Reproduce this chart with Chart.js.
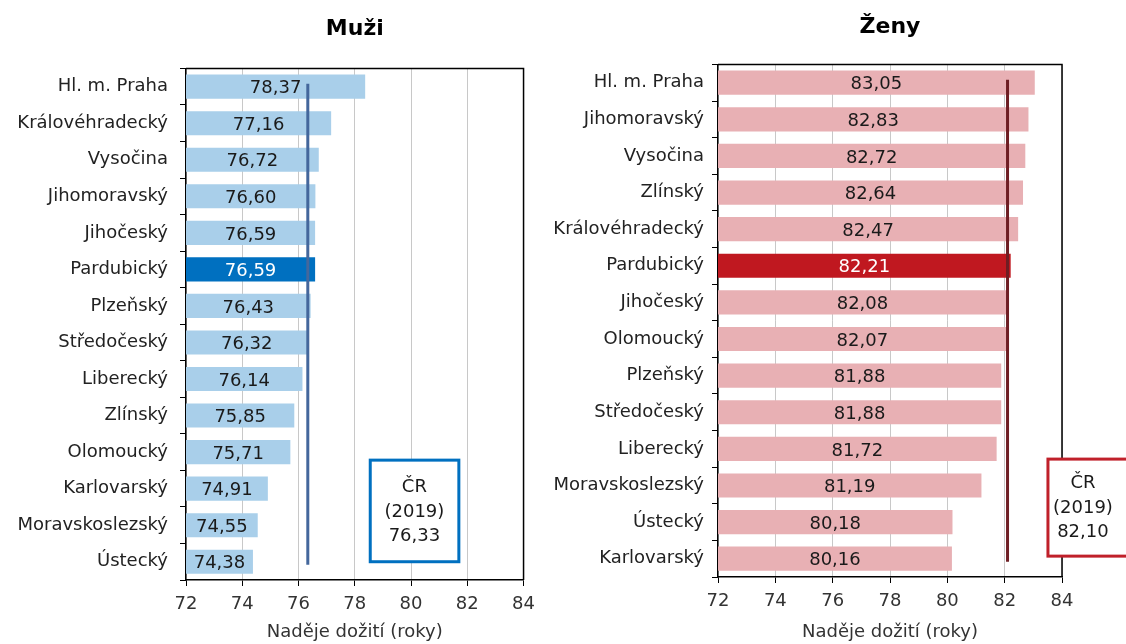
<!DOCTYPE html>
<html>
<head>
<meta charset="utf-8">
<script src="https://cdn.jsdelivr.net/npm/chart.js@4/dist/chart.umd.min.js"></script>
<style>
  html, body { margin: 0; padding: 0; background: #fff; }
  #wrap { position: relative; width: 1126px; height: 644px; overflow: hidden; }
  #men { position: absolute; left: 0; top: 0; }
  #women { position: absolute; left: 540px; top: 0; }
</style>
</head>
<body>
<div id="wrap">
  <canvas id="men" width="543" height="644"></canvas>
  <canvas id="women" width="586" height="644"></canvas>
</div>
<script>
// ==============================
// DATA
// ==============================
const regionsMen = ["Hl. m. Praha", "Královéhradecký", "Vysočina", "Jihomoravský", "Jihočeský", "Pardubický",
    "Plzeňský", "Středočeský", "Liberecký", "Zlínský", "Olomoucký", "Karlovarský", "Moravskoslezský", "Ústecký"];
const valuesMen = [78.37, 77.16, 76.72, 76.60, 76.59, 76.59, 76.43, 76.32, 76.14, 75.85, 75.71, 74.91, 74.55, 74.38];

const regionsWomen = ["Hl. m. Praha", "Jihomoravský", "Vysočina", "Zlínský", "Královéhradecký", "Pardubický",
    "Jihočeský", "Olomoucký", "Plzeňský", "Středočeský", "Liberecký", "Moravskoslezský", "Ústecký", "Karlovarský"];
const valuesWomen = [83.05, 82.83, 82.72, 82.64, 82.47, 82.21, 82.08, 82.07, 81.88, 81.88, 81.72, 81.19, 80.18, 80.16];

const crMen = 76.33;
const crWomen = 82.10;
const crYear = "2019";
const highlightRegion = "Pardubický";
const xTicks = [72, 74, 76, 78, 80, 82, 84];
const axisTitle = "Naděje dožití (roky)";

const FONT = "'DejaVu Sans', Verdana, sans-serif";
const fmt = v => v.toFixed(2).replace(".", ",");

// ==============================
// PLUGIN: frame, labels, CR line and box
// ==============================
const overlayPlugin = {
    id: "overlay",
    afterDatasetsDraw(chart, args, opts) {
        const { ctx, chartArea: a, scales: { x, y } } = chart;
        const ds = chart.data.datasets[0];
        const meta = chart.getDatasetMeta(0);

        // top + right frame
        ctx.save();
        ctx.strokeStyle = "#000";
        ctx.lineWidth = 1.5;
        ctx.beginPath();
        ctx.moveTo(a.left, a.top);
        ctx.lineTo(a.right, a.top);
        ctx.lineTo(a.right, a.bottom);
        ctx.stroke();

        // value labels, centered in bars
        ctx.font = "18px " + FONT;
        ctx.textAlign = "center";
        ctx.textBaseline = "middle";
        meta.data.forEach((bar, i) => {
            const label = chart.data.labels[i];
            ctx.fillStyle = label === highlightRegion ? "#fff" : "#1a1a1a";
            const cx = (x.getPixelForValue(x.min) + bar.x) / 2;
            ctx.fillText(fmt(ds.data[i]), cx, bar.y + 2);
        });

        // CR reference line
        const lx = x.getPixelForValue(opts.cr);
        ctx.strokeStyle = opts.lineColor;
        ctx.lineWidth = 3;
        ctx.beginPath();
        ctx.moveTo(lx, y.getPixelForValue(0) - 3);
        ctx.lineTo(lx, y.getPixelForValue(chart.data.labels.length - 1) + 3);
        ctx.stroke();

        // CR box
        const b = opts.box;
        const bx1 = x.getPixelForValue(b.xMin), bx2 = x.getPixelForValue(b.xMax);
        const by1 = y.getPixelForValue(b.yMin), by2 = y.getPixelForValue(b.yMax);
        ctx.fillStyle = "#fff";
        ctx.fillRect(bx1, by1, bx2 - bx1, by2 - by1);
        ctx.strokeStyle = opts.boxColor;
        ctx.lineWidth = 3;
        ctx.strokeRect(bx1, by1, bx2 - bx1, by2 - by1);
        ctx.fillStyle = "#1a1a1a";
        const tx = x.getPixelForValue(b.textX);
        const ty = (by1 + by2) / 2;
        ctx.fillText("ČR", tx, ty - 24);
        ctx.fillText("(" + crYear + ")", tx, ty + 1);
        ctx.fillText(fmt(opts.cr), tx, ty + 25);
        ctx.restore();
    }
};

// ==============================
// CHART BUILDER
// ==============================
function buildChart(canvasId, title, labels, values, cfg) {
    return new Chart(document.getElementById(canvasId), {
        type: "bar",
        data: {
            labels: labels,
            datasets: [{
                data: values,
                backgroundColor: labels.map(l => l === highlightRegion ? cfg.hiColor : cfg.barColor),
                barPercentage: 0.66,
                categoryPercentage: 1
            }]
        },
        options: {
            indexAxis: "y",
            responsive: false,
            animation: false,
            layout: { padding: { left: 0, right: cfg.padRight, top: 0, bottom: 0 } },
            plugins: {
                legend: { display: false },
                tooltip: { enabled: false },
                title: {
                    display: true,
                    text: title,
                    fullSize: false,
                    color: "#000",
                    font: { family: FONT, size: 22, weight: "bold" },
                    padding: cfg.titlePad
                },
                overlay: {
                    cr: cfg.cr,
                    lineColor: cfg.lineColor,
                    boxColor: cfg.boxColor,
                    box: cfg.box
                }
            },
            scales: {
                x: {
                    min: xTicks[0],
                    max: xTicks[xTicks.length - 1],
                    afterBuildTicks: s => { s.ticks = xTicks.map(v => ({ value: v })); },
                    afterFit: s => { s.height = cfg.xHeight; },
                    grid: { color: "#c8c8c8", lineWidth: 1, tickColor: "#000", tickLength: 6 },
                    border: { color: "#000", width: 1.5 },
                    ticks: { color: "#333", padding: 8, font: { family: FONT, size: 18 } },
                    title: {
                        display: true,
                        text: axisTitle,
                        color: "#333",
                        font: { family: FONT, size: 18 },
                        padding: { top: 2, bottom: 1 }
                    }
                },
                y: {
                    afterFit: s => { s.width = cfg.yWidth; },
                    grid: { drawOnChartArea: false, color: "#000", tickLength: 6, offset: true },
                    border: { color: "#000", width: 1.5 },
                    ticks: { color: "#222", padding: cfg.yPad, font: { family: FONT, size: 18 } }
                }
            }
        },
        plugins: [overlayPlugin]
    });
}

buildChart("men", "Muži", regionsMen, valuesMen, {
    barColor: "#a9cfea",
    hiColor: "#0070c0",
    lineColor: "#44679c",
    boxColor: "#0070c0",
    cr: crMen,
    padRight: 14,
    yWidth: 186,
    yPad: 12,
    xHeight: 64,
    titlePad: { top: 16, bottom: 26 },
    box: { xMin: 78.55, xMax: 81.7, yMin: 10.22, yMax: 13.0, textX: 80.12 }
});

buildChart("women", "Ženy", regionsWomen, valuesWomen, {
    barColor: "#e8b0b4",
    hiColor: "#c01820",
    lineColor: "#6e1e24",
    boxColor: "#c0202a",
    cr: crWomen,
    padRight: 64,
    yWidth: 178,
    yPad: 8,
    xHeight: 67,
    titlePad: { top: 14, bottom: 24 },
    box: { xMin: 83.51, xMax: 86.6, yMin: 10.28, yMax: 12.93, textX: 84.73 }
});
</script>
</body>
</html>
